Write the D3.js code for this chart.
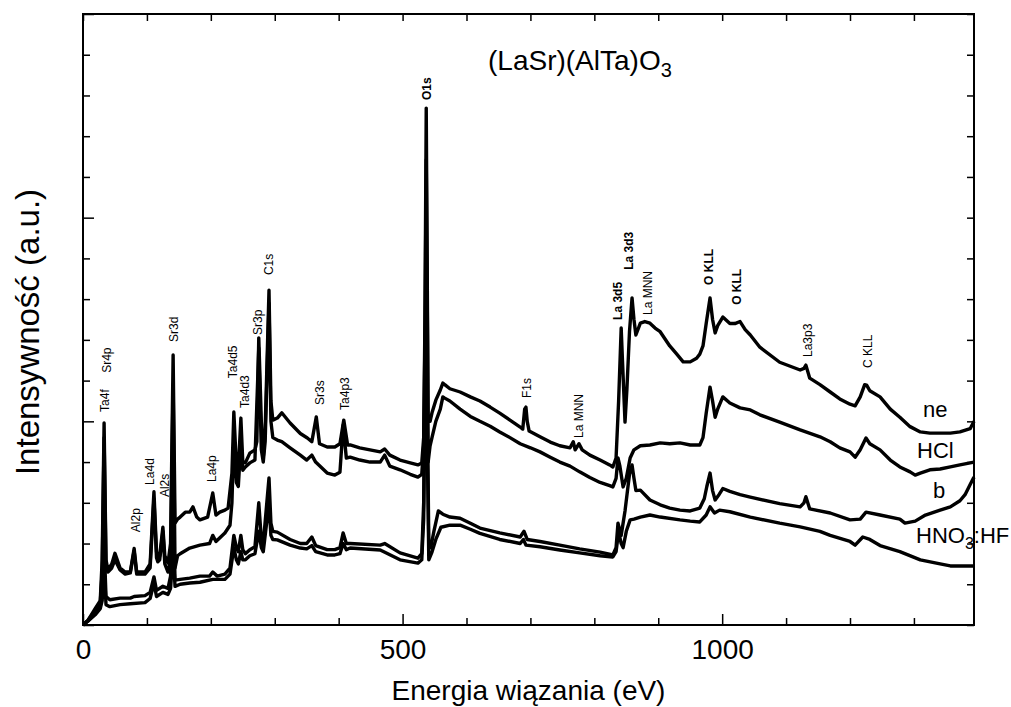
<!DOCTYPE html>
<html>
<head>
<meta charset="utf-8">
<script src="https://cdn.jsdelivr.net/npm/d3@7"></script>
<style>
  body { margin: 0; background: #fff; }
  text { font-family: "Liberation Sans", Arial, sans-serif; fill: #000; }
</style>
</head>
<body>
<div id="chart"></div>
<script>
// XPS survey spectra, [binding energy eV, intensity a.u.]
var neData = [[0,0],[8,0.12],[19,0.4],[27,0.6],[30,1.6],[33,4.96],[36,1.6],[39,1.35],[45,1.5],[50,1.76],[58,1.4],[66,1.3],[74,1.3],[80,1.88],[84,1.3],[97,1.3],[105,1.5],[111,3.27],[115,1.8],[117,1.64],[120,1.7],[125,2.4],[128,1.7],[133,1.52],[137,2.0],[141,6.63],[144,2.5],[148,2.6],[152,2.65],[160,2.77],[167,2.77],[172,2.9],[178,2.65],[183,2.58],[195,2.65],[203,3.24],[208,2.7],[214,2.77],[222,2.82],[227,2.87],[233,3.73],[236,5.23],[240,3.9],[243,3.81],[247,5.08],[250,4.0],[254,3.98],[261,4.22],[269,4.3],[272,4.5],[275,7.05],[279,5.0],[282,4.1],[285,4.8],[291,8.22],[294,5.5],[297,5.03],[304,5.08],[311,5.21],[324,4.96],[340,4.7],[351,4.59],[358,4.5],[365,5.11],[370,4.45],[382,4.37],[394,4.37],[402,4.45],[408,5.03],[414,4.42],[418,4.42],[433,4.35],[449,4.3],[465,4.25],[472,4.32],[480,4.17],[496,4.05],[512,3.98],[524,3.93],[530,3.98],[533,4.6],[535,7.5],[537,12.69],[539,7.5],[540,5.0],[543,5.0],[546,5.21],[552,5.52],[559,5.77],[563,5.94],[566,5.9],[574,5.8],[590,5.72],[606,5.6],[621,5.5],[637,5.35],[652,5.2],[668,5.03],[684,4.86],[688,4.81],[691,5.3],[693,5.35],[695,5.0],[698,4.76],[715,4.62],[731,4.49],[746,4.4],[762,4.35],[767,4.5],[770,4.3],[776,4.45],[781,4.3],[793,4.17],[809,4.05],[824,3.93],[829,3.88],[834,4.1],[838,5.5],[842,7.29],[844,6.5],[848,4.98],[851,5.8],[855,7.2],[859,8.03],[862,7.5],[865,7.12],[872,7.41],[879,7.45],[887,7.41],[895,7.29],[903,7.2],[918,6.85],[929,6.65],[939,6.46],[950,6.46],[960,6.55],[965,6.65],[970,6.85],[975,7.4],[981,8.03],[985,7.5],[989,7.17],[993,7.35],[1001,7.56],[1012,7.4],[1020,7.4],[1028,7.45],[1036,7.25],[1044,7.12],[1059,6.82],[1090,6.45],[1122,6.26],[1128,6.3],[1131,6.38],[1137,6.06],[1153,5.9],[1169,5.72],[1184,5.55],[1200,5.42],[1208,5.38],[1216,5.6],[1223,5.9],[1226,5.89],[1231,5.75],[1247,5.6],[1263,5.3],[1278,5.1],[1294,4.87],[1310,4.74],[1325,4.71],[1341,4.71],[1357,4.71],[1372,4.74],[1388,4.82],[1394,5.0]];

var hclData = [[0,0],[8,0.12],[19,0.35],[27,0.55],[30,1.3],[33,4.6],[36,1.4],[39,1.3],[45,1.4],[50,1.6],[58,1.35],[66,1.25],[74,1.28],[80,1.82],[84,1.25],[97,1.25],[105,1.4],[111,3.1],[115,1.65],[117,1.55],[120,1.6],[125,2.3],[128,1.5],[133,1.3],[137,1.6],[141,5.9],[144,1.4],[148,1.7],[152,1.75],[167,1.89],[183,1.96],[198,2.0],[203,2.2],[208,2.05],[222,2.26],[230,2.45],[233,3.0],[236,4.6],[240,3.5],[243,3.4],[247,4.5],[250,3.8],[254,3.88],[261,3.98],[269,4.05],[275,6.8],[279,4.3],[282,4.0],[285,4.5],[291,7.9],[294,5.0],[297,4.6],[304,4.54],[311,4.5],[324,4.35],[340,4.17],[350,4.05],[358,4.17],[364,4.0],[382,3.73],[394,3.68],[402,3.75],[407,4.91],[412,4.1],[418,4.12],[433,4.05],[449,4.0],[465,4.0],[472,4.17],[480,3.9],[496,3.81],[512,3.7],[524,3.63],[530,3.7],[533,4.4],[535,7.0],[537,11.42],[539,7.0],[540,4.0],[543,4.4],[546,4.6],[552,5.0],[559,5.3],[563,5.6],[566,5.57],[574,5.5],[590,5.3],[606,5.12],[621,5.0],[637,4.88],[652,4.74],[668,4.6],[684,4.45],[700,4.35],[715,4.25],[731,4.12],[746,4.0],[762,3.9],[777,3.76],[793,3.62],[809,3.5],[824,3.42],[829,3.39],[834,3.6],[837,4.1],[840,3.9],[845,3.39],[850,3.6],[856,4.1],[862,4.3],[872,4.4],[887,4.42],[903,4.47],[918,4.45],[934,4.47],[950,4.42],[965,4.42],[970,4.6],[975,5.2],[981,5.84],[985,5.5],[989,5.1],[993,5.3],[1001,5.6],[1012,5.45],[1028,5.33],[1044,5.28],[1059,5.16],[1090,4.98],[1122,4.79],[1153,4.62],[1169,4.5],[1184,4.35],[1200,4.25],[1208,4.12],[1216,4.3],[1225,4.59],[1231,4.45],[1247,4.3],[1263,4.05],[1278,3.88],[1294,3.76],[1302,3.68],[1310,3.73],[1325,3.81],[1341,3.83],[1357,3.88],[1372,3.93],[1388,3.98],[1394,4.0]];

var bData = [[0,0],[8,0.1],[19,0.3],[27,0.5],[30,0.8],[33,2.0],[36,0.7],[42,0.62],[58,0.66],[74,0.66],[80,0.7],[97,0.72],[105,0.8],[111,1.18],[115,0.85],[125,0.95],[133,0.9],[137,1.2],[141,3.0],[144,1.1],[152,1.12],[167,1.15],[183,1.2],[198,1.2],[203,1.3],[210,1.2],[222,1.25],[230,1.4],[236,2.2],[240,1.9],[243,1.8],[247,2.2],[250,1.85],[254,1.75],[261,1.85],[269,1.92],[275,3.0],[279,2.1],[282,2.0],[291,3.61],[294,2.5],[297,2.3],[304,2.28],[324,2.1],[340,2.0],[350,2.0],[358,2.16],[364,1.95],[382,1.85],[394,1.85],[402,1.9],[407,2.26],[412,2.0],[418,2.0],[465,1.96],[472,2.0],[496,1.77],[524,1.64],[530,1.75],[533,3.0],[535,6.0],[537,9.38],[539,5.0],[541,2.0],[544,1.9],[549,2.3],[556,2.8],[563,2.72],[574,2.65],[590,2.62],[606,2.5],[621,2.38],[652,2.26],[684,2.16],[690,2.3],[695,2.1],[715,2.05],[746,1.96],[777,1.87],[809,1.79],[829,1.72],[834,1.9],[837,2.5],[842,2.2],[848,2.8],[855,3.7],[859,3.93],[862,3.6],[865,3.3],[872,3.31],[887,3.07],[903,2.95],[918,2.87],[934,2.82],[950,2.8],[965,2.87],[972,3.1],[976,3.4],[981,3.73],[985,3.3],[989,3.07],[995,3.2],[1001,3.35],[1012,3.28],[1028,3.2],[1044,3.14],[1090,2.98],[1122,2.9],[1128,3.0],[1131,3.15],[1137,2.85],[1169,2.75],[1200,2.58],[1216,2.6],[1225,2.77],[1247,2.7],[1278,2.6],[1286,2.5],[1302,2.55],[1318,2.7],[1341,2.82],[1357,2.9],[1372,3.05],[1380,3.2],[1388,3.45],[1394,3.63]];

var hno3Data = [[0,0],[8,0.1],[19,0.25],[27,0.4],[30,0.6],[33,1.5],[36,0.5],[42,0.45],[58,0.5],[74,0.52],[97,0.55],[105,0.65],[111,1.03],[115,0.7],[125,0.8],[133,0.75],[137,0.9],[141,1.8],[144,0.95],[152,1.0],[167,1.03],[183,1.05],[203,1.12],[222,1.12],[230,1.25],[236,1.9],[240,1.6],[243,1.5],[247,1.8],[250,1.6],[254,1.6],[261,1.7],[269,1.75],[275,2.3],[279,1.9],[282,1.8],[291,3.0],[294,2.2],[297,2.1],[304,2.09],[324,1.96],[340,1.89],[350,1.87],[358,1.95],[364,1.8],[382,1.72],[394,1.72],[402,1.75],[407,2.0],[412,1.85],[418,1.89],[465,1.84],[496,1.6],[524,1.52],[530,1.6],[533,2.6],[535,5.5],[537,9.0],[539,4.0],[541,1.6],[546,1.79],[552,2.1],[560,2.4],[574,2.45],[590,2.45],[606,2.35],[621,2.25],[652,2.1],[684,2.0],[689,2.1],[693,1.96],[715,1.92],[746,1.84],[777,1.77],[809,1.7],[829,1.67],[834,1.8],[838,2.3],[842,2.0],[845,1.9],[850,2.3],[856,2.58],[862,2.6],[872,2.65],[887,2.7],[903,2.65],[934,2.58],[950,2.55],[965,2.53],[975,2.7],[981,2.9],[988,2.75],[996,2.82],[1012,2.78],[1044,2.65],[1090,2.5],[1122,2.41],[1153,2.3],[1169,2.2],[1200,2.05],[1208,1.96],[1220,2.16],[1231,2.1],[1247,1.95],[1278,1.8],[1310,1.6],[1341,1.5],[1357,1.45],[1394,1.45]];

// peak labels: name, energy, intensity where the label starts
var peakNames  = ["Ta4f","Sr4p","Al2p","La4d","Al2s","Sr3d","La4p","Ta4d5","Ta4d3","Sr3p","C1s","Sr3s","Ta4p3","O1s","F1s","La MNN","La 3d5","La 3d3","La MNN","O KLL","O KLL","La3p3","C KLL"];
var peakEnergy = [33.6, 37.5, 83, 105, 128, 142, 202, 235, 253, 274, 291, 371, 410, 538, 695, 776, 837, 854, 884, 979, 1023, 1134, 1228];
var peakLabelY = [5.23, 6.19, 2.28, 3.44, 3.14, 6.95, 3.51, 6.06, 5.33, 7.12, 8.59, 5.40, 5.28, 12.89, 5.57, 4.59, 7.49, 8.72, 7.61, 8.35, 7.86, 6.58, 6.31];
var boldPeaks = ["O1s","La 3d5","La 3d3","O KLL"];

var xTicks = d3.range(0, 1400, 100);
var xTickLabels = [0, 500, 1000];
var yTicks = d3.range(0, 16, 1);

var svgWidth = 1011, svgHeight = 707;
var plotLeft = 83, plotRight = 974, plotTop = 14, plotBottom = 625;

var svg = d3.select("#chart").append("svg")
  .attr("width", svgWidth)
  .attr("height", svgHeight);

var x = d3.scaleLinear().domain([0, 1394]).range([plotLeft, plotRight]);
var y = d3.scaleLinear().domain([0, 15]).range([plotBottom, plotTop]);

// curves
var line = d3.line()
  .x(function(d) { return x(d[0]); })
  .y(function(d) { return y(d[1]); });

[hno3Data, bData, hclData, neData].forEach(function(s) {
  svg.append("path")
    .datum(s)
    .attr("d", line)
    .attr("fill", "none")
    .attr("stroke", "#000")
    .attr("stroke-width", 3.4)
    .attr("stroke-linejoin", "round");
});

// axes, ticks pointing inward
function longX(d) { return d % 500 === 0; }
function longY(d) { return d % 5 === 0; }

var bottomAxis = svg.append("g")
  .attr("transform", "translate(0," + plotBottom + ")")
  .call(d3.axisBottom(x).tickValues(xTicks).tickSizeOuter(0).tickSizeInner(-7).tickPadding(14)
    .tickFormat(function(d) { return xTickLabels.indexOf(d) >= 0 ? d : ""; }));
bottomAxis.selectAll(".tick line").attr("y2", function(d) { return longX(d) ? -11 : -7; });
bottomAxis.selectAll("text").attr("font-size", "28px");

svg.append("g")
  .attr("transform", "translate(0," + plotTop + ")")
  .call(d3.axisTop(x).tickValues(xTicks).tickSizeOuter(0).tickSizeInner(-7).tickFormat(""));

var leftAxis = svg.append("g")
  .attr("transform", "translate(" + plotLeft + ",0)")
  .call(d3.axisLeft(y).tickValues(yTicks).tickSizeOuter(0).tickSizeInner(-7).tickFormat(""));
leftAxis.selectAll(".tick line").attr("x2", function(d) { return longY(d) ? 11 : 7; });

svg.append("g")
  .attr("transform", "translate(" + plotRight + ",0)")
  .call(d3.axisRight(y).tickValues(yTicks).tickSizeOuter(0).tickSizeInner(-7).tickFormat(""));

svg.selectAll(".domain").remove();
svg.selectAll(".tick line").attr("stroke-width", 1.5);

svg.append("rect")
  .attr("x", plotLeft).attr("y", plotTop)
  .attr("width", plotRight - plotLeft).attr("height", plotBottom - plotTop)
  .attr("fill", "none").attr("stroke", "#000").attr("stroke-width", 2);

// peak labels
peakNames.forEach(function(name, i) {
  var px = x(peakEnergy[i]), py = y(peakLabelY[i]);
  svg.append("text")
    .attr("x", px).attr("y", py)
    .attr("dy", "0.35em")
    .attr("transform", "rotate(-90," + px + "," + py + ")")
    .attr("font-size", "12px")
    .attr("font-weight", boldPeaks.indexOf(name) >= 0 ? "bold" : "normal")
    .text(name);
});

// title
var title = svg.append("text")
  .attr("x", 488).attr("y", 70)
  .attr("font-size", "28px");
title.append("tspan").text("(LaSr)(AlTa)O");
title.append("tspan").attr("dy", 7).attr("font-size", "20px").text("3");

// series names
var seriesLabels = [["ne", 923, 417], ["HCl", 917, 458], ["b", 933, 498]];
seriesLabels.forEach(function(s) {
  svg.append("text").attr("x", s[1]).attr("y", s[2]).attr("font-size", "22px").text(s[0]);
});
var hno3 = svg.append("text").attr("x", 916).attr("y", 543).attr("font-size", "22px");
hno3.append("tspan").text("HNO");
hno3.append("tspan").attr("dy", 6).attr("font-size", "16px").text("3");
hno3.append("tspan").attr("dy", -6).text(":HF");

// axis titles
svg.append("text")
  .attr("x", (plotLeft + plotRight) / 2).attr("y", 700)
  .attr("text-anchor", "middle")
  .attr("font-size", "28px")
  .text("Energia wiązania (eV)");

svg.append("text")
  .attr("transform", "translate(39," + 332 + ") rotate(-90)")
  .attr("text-anchor", "middle")
  .attr("font-size", "33px")
  .text("Intensywność (a.u.)");
</script>
</body>
</html>
